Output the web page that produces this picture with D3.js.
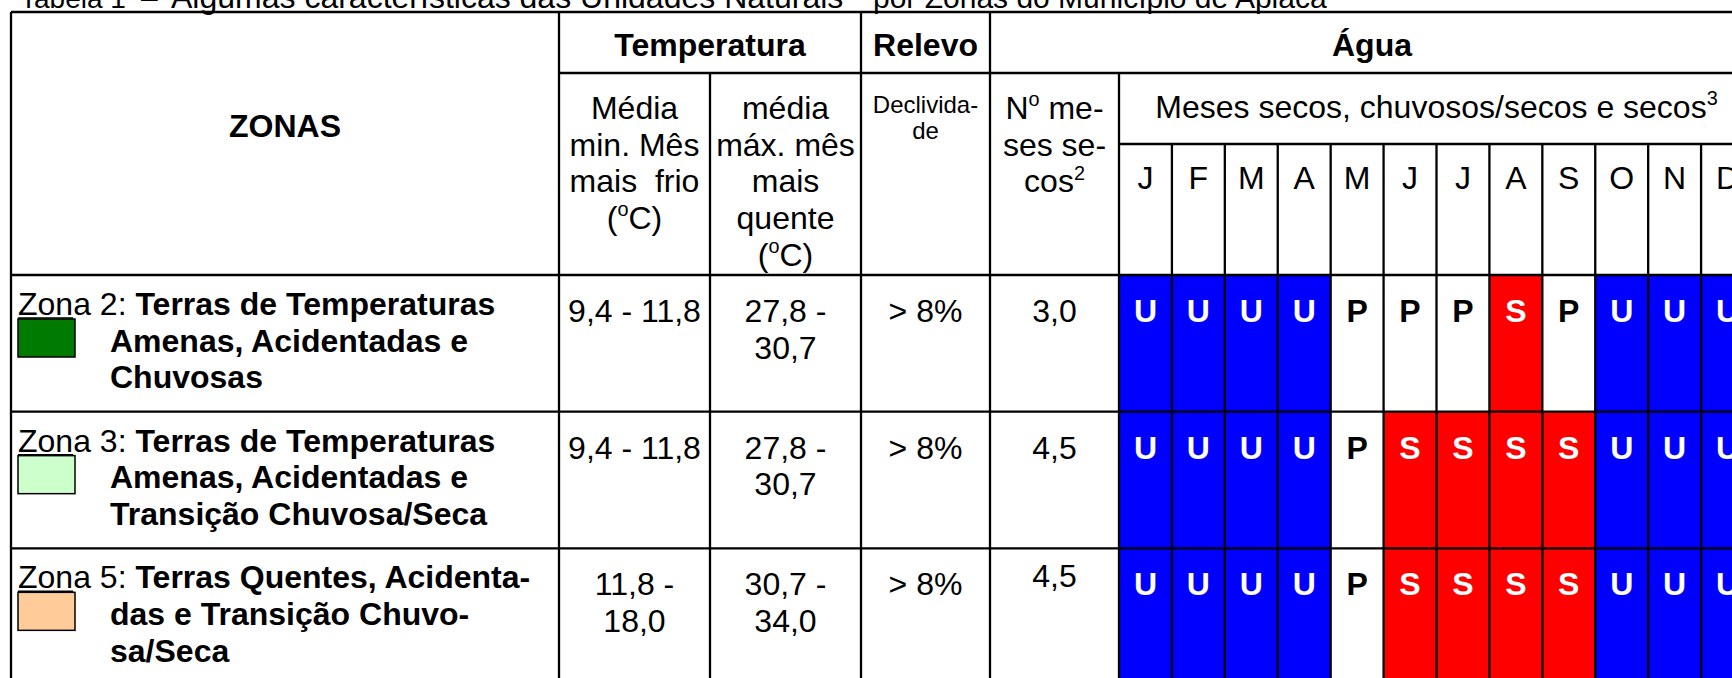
<!DOCTYPE html>
<html>
<head>
<meta charset="utf-8">
<script src="https://cdn.jsdelivr.net/npm/d3@7"></script>
<style>
  html, body { margin: 0; padding: 0; background: #fff; overflow: hidden; }
  svg { display: block; font-family: Arial, "Liberation Sans", sans-serif; }
</style>
</head>
<body>
<svg id="chart" width="1732" height="678"></svg>
<script>
// table data
const months = ['J', 'F', 'M', 'A', 'M', 'J', 'J', 'A', 'S', 'O', 'N', 'D'];
const zoneIds = ['Zona 2', 'Zona 3', 'Zona 5'];
const zoneTitles = [
  ['Terras de Temperaturas', 'Amenas, Acidentadas e', 'Chuvosas'],
  ['Terras de Temperaturas', 'Amenas, Acidentadas e', 'Transição Chuvosa/Seca'],
  ['Terras Quentes, Acidenta-', 'das e Transição Chuvo-', 'sa/Seca'],
];
const zoneColors = ['#007a00', '#ccffcc', '#ffcc99'];
const tempMin = [['9,4 - 11,8'], ['9,4 - 11,8'], ['11,8 -', '18,0']];
const tempMax = [['27,8 -', '30,7'], ['27,8 -', '30,7'], ['30,7 -', '34,0']];
const relevo = ['> 8%', '> 8%', '> 8%'];
const mesesSecos = ['3,0', '4,5', '4,5'];
const monthStatus = [
  ['U', 'U', 'U', 'U', 'P', 'P', 'P', 'S', 'P', 'U', 'U', 'U'],
  ['U', 'U', 'U', 'U', 'P', 'S', 'S', 'S', 'S', 'U', 'U', 'U'],
  ['U', 'U', 'U', 'U', 'P', 'S', 'S', 'S', 'S', 'U', 'U', 'U'],
];
const statusKeys = ['U', 'P', 'S'];

const svg = d3.select('#chart');
const FS = 32, LH = 36.7;

// column / row edges of the table grid
const X = { left: 11, zonas: 559, tmin: 710, tmax: 861, relevo: 990, meses: 1119, right: 1754 };
const Y = { top: 12, h1: 73, h2: 144, head: 275, bottom: 685 };

const rowScale = d3.scaleBand().domain(d3.range(zoneIds.length)).range([Y.head, Y.bottom]).padding(0);
const monthScale = d3.scaleBand().domain(d3.range(months.length)).range([X.meses, X.right]).padding(0);
const fillScale = d3.scaleOrdinal().domain(statusKeys).range(['#0000ff', '#ffffff', '#ff0000']);
const inkScale = d3.scaleOrdinal().domain(statusKeys).range(['#ffffff', '#000000', '#ffffff']);

// write a line made of segments {t, b, sup}
function writeLine(g, x, y, segs, anchor, size) {
  size = size || FS;
  const t = g.append('text')
    .attr('x', x)
    .attr('y', y)
    .attr('text-anchor', anchor || 'middle')
    .attr('font-size', size)
    .attr('fill', '#000')
    .style('white-space', 'pre');
  let raised = false;
  segs.forEach(s => {
    if (typeof s === 'string') s = { t: s };
    const ts = t.append('tspan').text(s.t);
    if (s.b) ts.attr('font-weight', 700);
    if (s.sup) {
      ts.attr('font-size', size * 0.62).attr('dy', -size * 0.4);
      raised = true;
    } else if (raised) {
      ts.attr('dy', size * 0.4);
      raised = false;
    }
  });
  return t;
}

function writeLines(g, x, y, lines, anchor, size, lh) {
  lines.forEach((l, i) => writeLine(g, x, y + i * (lh || LH), Array.isArray(l) ? l : [l], anchor, size));
}

// title (its top is cut by the frame, as in the source)
const title = svg.append('g');
writeLine(title, 20, 8, ['Tabela 1'], 'start', 28);
writeLine(title, 141, 8, ['\u2013'], 'start', 30);
writeLine(title, 171, 8, ['Algumas características das Unidades Naturais', { t: '1', sup: true }], 'start', 32);
writeLine(title, 873, 8, ['por Zonas do Município de Apiacá'], 'start', 30);

// month cell fills
const cells = svg.append('g');
monthStatus.forEach((row, r) => {
  cells.selectAll(null)
    .data(row)
    .join('rect')
    .attr('x', (d, i) => monthScale(i))
    .attr('y', rowScale(r))
    .attr('width', monthScale.bandwidth())
    .attr('height', rowScale.bandwidth())
    .attr('fill', d => fillScale(d));
  cells.selectAll(null)
    .data(row)
    .join('text')
    .attr('x', (d, i) => monthScale(i) + monthScale.bandwidth() / 2)
    .attr('y', rowScale(r) + 47)
    .attr('text-anchor', 'middle')
    .attr('font-size', FS)
    .attr('font-weight', 700)
    .attr('fill', d => inkScale(d))
    .text(d => d);
});

// header texts
const head = svg.append('g');
writeLine(head, (X.left + X.zonas) / 2, 137, [{ t: 'ZONAS', b: true }]);
writeLine(head, (X.zonas + X.tmax) / 2, 56, [{ t: 'Temperatura', b: true }]);
writeLine(head, (X.tmax + X.relevo) / 2, 56, [{ t: 'Relevo', b: true }]);
writeLine(head, (X.relevo + X.right) / 2, 56, [{ t: 'Água', b: true }]);
writeLines(head, (X.zonas + X.tmin) / 2, 119, ['Média', 'min. Mês', 'mais  frio', ['(', { t: 'o', sup: true }, 'C)']]);
writeLines(head, (X.tmin + X.tmax) / 2, 119, ['média', 'máx. mês', 'mais', 'quente', ['(', { t: 'o', sup: true }, 'C)']]);
writeLines(head, (X.tmax + X.relevo) / 2, 113, ['Declivida-', 'de'], 'middle', 24, 26);
writeLines(head, (X.relevo + X.meses) / 2, 119, [['N', { t: 'o', sup: true }, ' me-'], 'ses se-', ['cos', { t: '2', sup: true }]]);
writeLine(head, (X.meses + X.right) / 2, 118, ['Meses secos, chuvosos/secos e secos', { t: '3', sup: true }]);
head.selectAll(null)
  .data(months)
  .join('text')
  .attr('x', (d, i) => monthScale(i) + monthScale.bandwidth() / 2)
  .attr('y', 189)
  .attr('text-anchor', 'middle')
  .attr('font-size', FS)
  .text(d => d);

// body rows
const body = svg.append('g');
zoneIds.forEach((z, r) => {
  const y0 = rowScale(r);
  const first = writeLine(body, 18, y0 + 40, [z + ': ', { t: zoneTitles[r][0], b: true }], 'start');
  // "Zon" is underlined in the source
  const uw = first.node().getSubStringLength(0, 3);
  body.append('line')
    .attr('x1', 18).attr('x2', 18 + uw)
    .attr('y1', y0 + 43).attr('y2', y0 + 43)
    .attr('stroke', '#000').attr('stroke-width', 1.5);
  writeLines(body, 110, y0 + 40 + LH, zoneTitles[r].slice(1).map(t => [{ t, b: true }]), 'start');
  body.append('rect')
    .attr('x', 18).attr('y', y0 + 44)
    .attr('width', 57).attr('height', 38)
    .attr('fill', zoneColors[r])
    .attr('stroke', '#000').attr('stroke-width', 1.5);

  writeLines(body, (X.zonas + X.tmin) / 2, y0 + 47, tempMin[r]);
  writeLines(body, (X.tmin + X.tmax) / 2, y0 + 47, tempMax[r]);
  writeLine(body, (X.tmax + X.relevo) / 2, y0 + 47, [relevo[r]]);
  writeLine(body, (X.relevo + X.meses) / 2, y0 + (r === 2 ? 39 : 47), [mesesSecos[r]]);
});

// grid lines
const grid = svg.append('g').attr('stroke', '#000').attr('stroke-width', 2.3).attr('fill', 'none');
const hLines = [
  [X.left, X.right, Y.top],
  [X.zonas, X.right, Y.h1],
  [X.meses, X.right, Y.h2],
  [X.left, X.right, Y.head],
  ...d3.range(1, zoneIds.length).map(i => [X.left, X.right, rowScale(i)]),
];
const vLines = [
  [X.left, Y.top, Y.bottom],
  [X.zonas, Y.top, Y.bottom],
  [X.tmin, Y.h1, Y.bottom],
  [X.tmax, Y.top, Y.bottom],
  [X.relevo, Y.top, Y.bottom],
  [X.meses, Y.h1, Y.bottom],
  ...d3.range(1, months.length).map(i => [monthScale(i), Y.h2, Y.bottom]),
];
grid.selectAll('.h').data(hLines).join('line')
  .attr('x1', d => d[0]).attr('x2', d => d[1]).attr('y1', d => d[2]).attr('y2', d => d[2]);
grid.selectAll('.v').data(vLines).join('line')
  .attr('x1', d => d[0]).attr('x2', d => d[0]).attr('y1', d => d[1]).attr('y2', d => d[2]);
</script>
</body>
</html>
